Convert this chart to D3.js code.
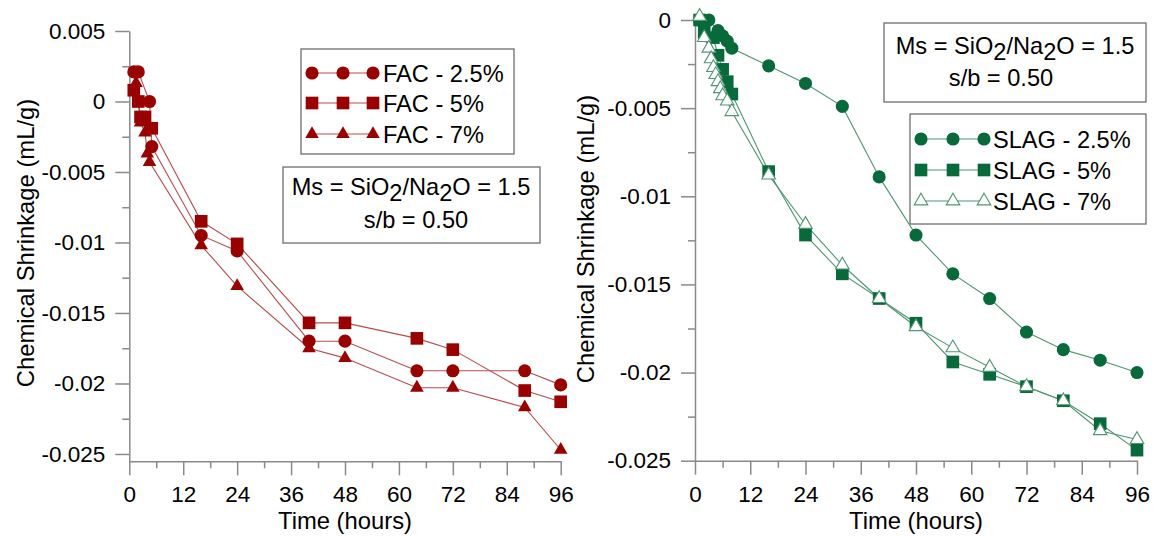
<!DOCTYPE html>
<html>
<head>
<meta charset="utf-8">
<script src="https://cdn.jsdelivr.net/npm/d3@7"></script>
<style>
  body { margin: 0; background: #fff; }
  svg { display: block; }
  text { font-family: "Liberation Sans", Arial, sans-serif; fill: #000; }
</style>
</head>
<body>
<svg id="chart" width="1156" height="537"></svg>
<script>
// ---- axis ticks ----
const timeTicks = [0, 12, 24, 36, 48, 60, 72, 84, 96];
const timeMinorTicks = [6, 18, 30, 42, 54, 66, 78, 90];
const facTicks = [0.005, 0, -0.005, -0.01, -0.015, -0.02, -0.025];
const facTickLabels = ["0.005", "0", "-0.005", "-0.01", "-0.015", "-0.02", "-0.025"];
const facMinorTicks = [0.0025, -0.0025, -0.0075, -0.0125, -0.0175, -0.0225];
const slagTicks = [0, -0.005, -0.01, -0.015, -0.02, -0.025];
const slagTickLabels = ["0", "-0.005", "-0.01", "-0.015", "-0.02", "-0.025"];
const slagMinorTicks = [-0.0025, -0.0075, -0.0125, -0.0175, -0.0225];

// ---- FAC mixes (hours, mL/g) ----
const facNames = ["FAC - 2.5%", "FAC - 5%", "FAC - 7%"];
const fac25Time  = [1, 2, 4.5, 5, 16, 24, 40, 48, 64, 72, 88, 96];
const fac25Value = [0.0021, 0.0021, 0, -0.0032, -0.0095, -0.0106, -0.017, -0.017, -0.0191, -0.0191, -0.0191, -0.0201];
const fac5Time   = [1, 2, 2.5, 3.5, 5, 16, 24, 40, 48, 64, 72, 88, 96];
const fac5Value  = [0.0008, 0, -0.0011, -0.0011, -0.0019, -0.0085, -0.0101, -0.0157, -0.0157, -0.0168, -0.0176, -0.0205, -0.0213];
const fac7Time   = [1.5, 2.5, 3.5, 4, 4.5, 16, 24, 40, 48, 64, 72, 88, 96];
const fac7Value  = [0.0013, -0.0015, -0.0022, -0.0037, -0.0043, -0.0102, -0.0131, -0.0175, -0.0182, -0.0203, -0.0203, -0.0217, -0.0247];

// ---- SLAG mixes (hours, mL/g) ----
const slagNames = ["SLAG - 2.5%", "SLAG - 5%", "SLAG - 7%"];
const slag25Time  = [1, 3, 5, 6, 7, 8, 16, 24, 32, 40, 48, 56, 64, 72, 80, 88, 96];
const slag25Value = [0, 0, -0.0006, -0.0009, -0.0012, -0.0016, -0.0026, -0.0036, -0.0049, -0.0089, -0.0122, -0.0144, -0.0158, -0.0177, -0.0187, -0.0193, -0.02];
const slag5Time   = [1, 2, 4, 5, 6, 7, 8, 16, 24, 32, 40, 48, 56, 64, 72, 80, 88, 96];
const slag5Value  = [0, -0.0007, -0.001, -0.002, -0.0028, -0.0035, -0.0042, -0.0086, -0.0122, -0.0144, -0.0158, -0.0172, -0.0194, -0.0201, -0.0208, -0.0216, -0.0229, -0.0244];
const slag7Time   = [1, 2, 3, 3.5, 4, 4.5, 5, 5.5, 6, 7, 8, 16, 24, 32, 40, 48, 56, 64, 72, 80, 88, 96];
const slag7Value  = [0.0002, -0.001, -0.0016, -0.0022, -0.0027, -0.0031, -0.0035, -0.0039, -0.0043, -0.0046, -0.0052, -0.0088, -0.0116, -0.0139, -0.0158, -0.0174, -0.0186, -0.0197, -0.0208, -0.0216, -0.0233, -0.0238];

const svg = d3.select("#chart");
const AXIS = "#8a8a8a";
const RED = "#990000", RED_LINE = "#b84c4c";
const GREEN = "#08693a", GREEN_LINE = "#4f9672";
const TITLE_SIZE = 23.8, BOX_SIZE = 23.6, TICK_SIZE = 22.5;

const pairs = (ts, vs) => ts.map((t, i) => ({ t, v: vs[i] }));

const symbolPath = (kind) => {
  if (kind === "circle") return d3.symbol(d3.symbolCircle, 135)();
  if (kind === "square") return d3.symbol(d3.symbolSquare, 160)();
  return d3.symbol(d3.symbolTriangle, 80)();
};

function styleMarker(sel, s) {
  sel.attr("d", symbolPath(s.shape))
     .attr("fill", s.hollow ? "#fff" : s.color)
     .attr("stroke", s.hollow ? s.lineColor : "none")
     .attr("stroke-width", 1.1);
}

function drawPanel(p) {
  const g = svg.append("g");
  const x = d3.scaleLinear().domain([0, 96]).range([p.x0, p.x1]);
  const y = d3.scaleLinear().domain(p.yDomain).range([p.yBottom, p.yTop]);

  // minor ticks
  g.append("g").attr("transform", `translate(0,${p.yBottom})`)
    .call(d3.axisBottom(x).tickValues(timeMinorTicks).tickSize(7).tickFormat(""))
    .call(a => a.select(".domain").remove());
  g.append("g").attr("transform", `translate(${p.x0},0)`)
    .call(d3.axisLeft(y).tickValues(p.yMinor).tickSize(7).tickFormat(""))
    .call(a => a.select(".domain").remove());

  // major axes
  const xa = g.append("g").attr("transform", `translate(0,${p.yBottom})`)
    .call(d3.axisBottom(x).tickValues(timeTicks).tickSize(14).tickSizeOuter(0).tickPadding(11));
  const ya = g.append("g").attr("transform", `translate(${p.x0},0)`)
    .call(d3.axisLeft(y).tickValues(p.yTicks).tickFormat((d, i) => p.yLabels[i])
      .tickSize(14).tickSizeOuter(0).tickPadding(10));
  g.selectAll(".tick line, .domain").attr("stroke", AXIS).attr("stroke-width", 1.5);
  [xa, ya].forEach(a => a.selectAll("text").attr("font-size", TICK_SIZE)
    .attr("font-family", "Liberation Sans, Arial, sans-serif").attr("fill", "#000"));

  // axis titles
  g.append("text").attr("x", (p.x0 + p.x1) / 2).attr("y", 529)
    .attr("text-anchor", "middle").attr("font-size", TITLE_SIZE).text("Time (hours)");
  g.append("text").attr("transform", `translate(${p.titleX},${p.titleY}) rotate(-90)`)
    .attr("text-anchor", "middle").attr("font-size", TITLE_SIZE).text("Chemical Shrinkage (mL/g)");

  // series lines
  const line = d3.line().x(d => x(d.t)).y(d => y(d.v));
  p.series.forEach(s => {
    g.append("path").datum(pairs(s.time, s.value)).attr("d", line)
      .attr("fill", "none").attr("stroke", s.lineColor).attr("stroke-width", 1.1);
  });
  // series markers
  p.series.forEach(s => {
    g.append("g").selectAll("path").data(pairs(s.time, s.value)).join("path")
      .attr("transform", d => `translate(${x(d.t)},${y(d.v)})`)
      .call(styleMarker, s);
  });

  // annotation box
  const a = p.note;
  g.append("rect").attr("x", a.x).attr("y", a.y).attr("width", a.w).attr("height", a.h)
    .attr("fill", "#fff").attr("stroke", "#6e6e6e").attr("stroke-width", 1.3);
  const t1 = g.append("text").attr("x", a.l1x).attr("y", a.l1y)
    .attr("text-anchor", "middle").attr("font-size", BOX_SIZE);
  t1.append("tspan").text("Ms = SiO");
  t1.append("tspan").attr("dy", 6).text("2");
  t1.append("tspan").attr("dy", -6).text("/Na");
  t1.append("tspan").attr("dy", 6).text("2");
  t1.append("tspan").attr("dy", -6).text("O = 1.5");
  g.append("text").attr("x", a.l2x).attr("y", a.l2y)
    .attr("text-anchor", "middle").attr("font-size", BOX_SIZE).text("s/b = 0.50");

  // legend
  const L = p.legend;
  g.append("rect").attr("x", L.x).attr("y", L.y).attr("width", L.w).attr("height", L.h)
    .attr("fill", "#fff").attr("stroke", "#6e6e6e").attr("stroke-width", 1.3);
  p.series.forEach((s, i) => {
    const ry = L.rows[i];
    g.append("line").attr("x1", L.marks[0]).attr("x2", L.marks[2]).attr("y1", ry).attr("y2", ry)
      .attr("stroke", s.lineColor).attr("stroke-width", 1.1);
    g.append("g").selectAll("path").data(L.marks).join("path")
      .attr("transform", mx => `translate(${mx},${ry})`).call(styleMarker, s);
    g.append("text").attr("x", L.textX).attr("y", ry + 8.5).attr("font-size", BOX_SIZE).text(p.names[i]);
  });
}

drawPanel({
  x0: 129.3, x1: 560.7, yTop: 31, yBottom: 461.3,
  yDomain: [-0.02552, 0.005], yTicks: facTicks, yLabels: facTickLabels, yMinor: facMinorTicks,
  titleX: 34, titleY: 243,
  names: facNames,
  series: [
    { time: fac25Time, value: fac25Value, shape: "circle", color: RED, lineColor: RED_LINE },
    { time: fac5Time, value: fac5Value, shape: "square", color: RED, lineColor: RED_LINE },
    { time: fac7Time, value: fac7Value, shape: "triangle", color: RED, lineColor: RED_LINE }
  ],
  legend: { x: 301, y: 49, w: 213, h: 105, rows: [73, 103, 134], marks: [312, 343, 373], textX: 383 },
  note: { x: 283, y: 167, w: 257, h: 76, l1x: 411, l1y: 195, l2x: 416, l2y: 228 }
});

drawPanel({
  x0: 695, x1: 1137, yTop: 20, yBottom: 460.7,
  yDomain: [-0.025, 0], yTicks: slagTicks, yLabels: slagTickLabels, yMinor: slagMinorTicks,
  titleX: 594, titleY: 239,
  names: slagNames,
  series: [
    { time: slag25Time, value: slag25Value, shape: "circle", color: GREEN, lineColor: GREEN_LINE },
    { time: slag5Time, value: slag5Value, shape: "square", color: GREEN, lineColor: GREEN_LINE },
    { time: slag7Time, value: slag7Value, shape: "triangle", color: GREEN, lineColor: GREEN_LINE, hollow: true }
  ],
  legend: { x: 910, y: 114, w: 236, h: 110, rows: [139, 170, 201], marks: [921, 953, 984], textX: 993 },
  note: { x: 884, y: 23, w: 262, h: 79, l1x: 1015, l1y: 54, l2x: 1001, l2y: 86 }
});
</script>
</body>
</html>
